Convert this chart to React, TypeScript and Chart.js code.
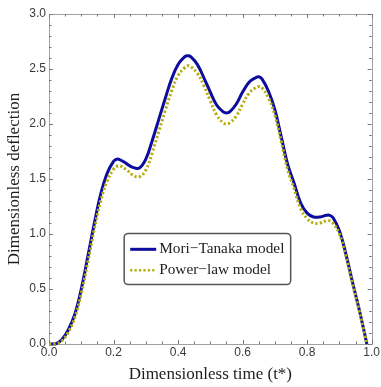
import React, { useEffect, useRef } from 'react';
import { Chart, registerables } from 'chart.js';

Chart.register(...registerables);

const tValues = [0, 0.02, 0.04, 0.06, 0.08, 0.10, 0.12, 0.14, 0.16, 0.18, 0.20, 0.21, 0.22, 0.24, 0.26, 0.28, 0.30, 0.32, 0.34, 0.36, 0.38, 0.40, 0.42, 0.43, 0.44, 0.46, 0.48, 0.50, 0.52, 0.54, 0.55, 0.56, 0.58, 0.60, 0.62, 0.64, 0.65, 0.66, 0.68, 0.70, 0.72, 0.74, 0.76, 0.78, 0.80, 0.82, 0.84, 0.86, 0.87, 0.88, 0.90, 0.92, 0.94, 0.96, 0.98, 0.985];
const moriTanaka = [0, 0, 0.04, 0.13, 0.27, 0.50, 0.79, 1.09, 1.36, 1.55, 1.66, 1.68, 1.675, 1.64, 1.605, 1.60, 1.68, 1.85, 2.04, 2.23, 2.41, 2.54, 2.61, 2.62, 2.61, 2.54, 2.42, 2.29, 2.17, 2.11, 2.10, 2.11, 2.18, 2.29, 2.38, 2.42, 2.43, 2.41, 2.30, 2.13, 1.88, 1.63, 1.46, 1.28, 1.19, 1.155, 1.155, 1.17, 1.17, 1.15, 1.03, 0.82, 0.57, 0.33, 0.07, 0];
const powerLaw = [0, 0, 0.03, 0.11, 0.24, 0.46, 0.74, 1.04, 1.30, 1.48, 1.59, 1.615, 1.62, 1.585, 1.535, 1.52, 1.58, 1.74, 1.93, 2.12, 2.30, 2.44, 2.51, 2.53, 2.52, 2.46, 2.35, 2.21, 2.08, 2.01, 2.00, 2.01, 2.07, 2.18, 2.28, 2.33, 2.34, 2.33, 2.24, 2.08, 1.84, 1.58, 1.41, 1.23, 1.14, 1.10, 1.10, 1.12, 1.12, 1.10, 1.00, 0.80, 0.56, 0.32, 0.07, 0];

const xTicks = [0, 0.2, 0.4, 0.6, 0.8, 1.0];
const yTicks = [0, 0.5, 1.0, 1.5, 2.0, 2.5, 3.0];
const xMinor = [0.05, 0.1, 0.15, 0.25, 0.3, 0.35, 0.45, 0.5, 0.55, 0.65, 0.7, 0.75, 0.85, 0.9, 0.95];
const yMinor = [0.1, 0.2, 0.3, 0.4, 0.6, 0.7, 0.8, 0.9, 1.1, 1.2, 1.3, 1.4, 1.6, 1.7, 1.8, 1.9, 2.1, 2.2, 2.3, 2.4, 2.6, 2.7, 2.8, 2.9];

const seriesLabels = ['Mori\u2212Tanaka model', 'Power\u2212law model'];
const xTitle = 'Dimensionless time (t*)';
const yTitle = 'Dimensionless deflection';

const BLUE = '#0c0c9e';
const OLIVE = '#b6ad12';
const FRAME = '#a0a0a0';

const framePlugin = {
  id: 'frameTicks',
  beforeDatasetsDraw(chart: any) {
    const { ctx, chartArea: a, scales } = chart;
    const xs = scales.x;
    const ys = scales.y;
    ctx.save();
    ctx.strokeStyle = FRAME;
    ctx.lineWidth = 1;
    ctx.strokeRect(Math.round(a.left) + 0.5, Math.round(a.top) + 0.5, Math.round(a.right - a.left), Math.round(a.bottom - a.top));
    ctx.strokeStyle = '#777';
    const tick = (v: number, len: number, horiz: boolean) => {
      if (horiz) {
        const p = Math.round(xs.getPixelForValue(v)) + 0.5;
        ctx.beginPath();
        ctx.moveTo(p, a.bottom); ctx.lineTo(p, a.bottom - len);
        ctx.moveTo(p, a.top); ctx.lineTo(p, a.top + len);
        ctx.stroke();
      } else {
        const p = Math.round(ys.getPixelForValue(v)) + 0.5;
        ctx.beginPath();
        ctx.moveTo(a.left, p); ctx.lineTo(a.left + len, p);
        ctx.moveTo(a.right, p); ctx.lineTo(a.right - len, p);
        ctx.stroke();
      }
    };
    xTicks.forEach((v) => tick(v, 4, true));
    xMinor.forEach((v) => tick(v, 2.5, true));
    yTicks.forEach((v) => tick(v, 4, false));
    yMinor.forEach((v) => tick(v, 2.5, false));
    ctx.restore();
  },
};

const legendPlugin = {
  id: 'insideLegend',
  afterDatasetsDraw(chart: any) {
    const { ctx, chartArea: a } = chart;
    const w = a.right - a.left;
    const h = a.bottom - a.top;
    const bx = a.left + w * 0.233;
    const by = a.top + h * 0.665;
    const bw = w * 0.516;
    const bh = h * 0.155;
    ctx.save();
    ctx.fillStyle = '#ffffff';
    ctx.strokeStyle = '#555555';
    ctx.lineWidth = 1.5;
    ctx.beginPath();
    (ctx as any).roundRect(bx, by, bw, bh, 4);
    ctx.fill();
    ctx.stroke();
    const ds = chart.data.datasets;
    const rows = [by + bh * 0.31, by + bh * 0.72];
    ds.forEach((d: any, i: number) => {
      const y = rows[i];
      ctx.strokeStyle = d.borderColor;
      ctx.lineWidth = i === 0 ? 3 : 2.5;
      ctx.setLineDash(d.borderDash || []);
      ctx.beginPath();
      ctx.moveTo(bx + 6, y);
      ctx.lineTo(bx + 32, y);
      ctx.stroke();
      ctx.setLineDash([]);
      ctx.fillStyle = '#1e1e1e';
      ctx.font = '15.3px "Liberation Serif", "Times New Roman", serif';
      ctx.textBaseline = 'middle';
      ctx.textAlign = 'left';
      ctx.fillText(d.label, bx + 35, y);
    });
    ctx.restore();
  },
};

export default function App() {
  const ref = useRef<HTMLCanvasElement | null>(null);
  useEffect(() => {
    document.body.style.margin = '0';
    const canvas = ref.current;
    if (!canvas) return;
    const chart = new Chart(canvas, {
      type: 'line',
      data: {
        datasets: [
          {
            label: seriesLabels[0],
            data: tValues.map((t, i) => ({ x: t, y: moriTanaka[i] })),
            borderColor: BLUE,
            borderWidth: 3,
            pointRadius: 0,
            tension: 0.4,
            fill: false,
            order: 1,
            clip: false,
          } as any,
          {
            label: seriesLabels[1],
            data: tValues.map((t, i) => ({ x: t, y: powerLaw[i] })),
            borderColor: OLIVE,
            borderWidth: 3,
            borderDash: [2.2, 2.2],
            borderCapStyle: 'butt',
            pointRadius: 0,
            tension: 0.4,
            fill: false,
            order: 0,
            clip: false,
          } as any,
        ],
      },
      options: {
        responsive: false,
        animation: false,
        layout: { padding: { left: 0, top: 14, right: 7, bottom: 0 } },
        plugins: { legend: { display: false }, tooltip: { enabled: false } },
        scales: {
          x: {
            type: 'linear',
            min: 0,
            max: 1,
            grid: { display: false, drawTicks: false },
            border: { display: false },
            afterBuildTicks: (s: any) => { s.ticks = xTicks.map((v) => ({ value: v })); },
            afterFit: (s: any) => { s.height = 43; },
            ticks: {
              padding: 1,
              maxRotation: 0,
              autoSkip: false,
              color: '#3a3a3a',
              font: { family: '"Liberation Sans", Arial, sans-serif', size: 12 },
              callback: (v: any) => Number(v).toFixed(1),
            },
            title: {
              display: true,
              text: xTitle,
              color: '#1e1e1e',
              padding: { top: 0, bottom: 2.3 },
              font: { family: '"Liberation Serif", "Times New Roman", serif', size: 17 },
            },
          },
          y: {
            type: 'linear',
            min: 0,
            max: 3,
            grid: { display: false, drawTicks: false },
            border: { display: false },
            afterBuildTicks: (s: any) => { s.ticks = yTicks.map((v) => ({ value: v })); },
            afterFit: (s: any) => { s.width = 49; },
            ticks: {
              padding: 3,
              autoSkip: false,
              color: '#3a3a3a',
              font: { family: '"Liberation Sans", Arial, sans-serif', size: 12 },
              callback: (v: any) => Number(v).toFixed(1),
            },
            title: {
              display: true,
              text: yTitle,
              color: '#1e1e1e',
              padding: { top: 4.3, bottom: 0 },
              font: { family: '"Liberation Serif", "Times New Roman", serif', size: 17 },
            },
          },
        },
      },
      plugins: [framePlugin, legendPlugin],
    });
    return () => chart.destroy();
  }, []);
  return <canvas ref={ref} width={381} height={387} />;
}
